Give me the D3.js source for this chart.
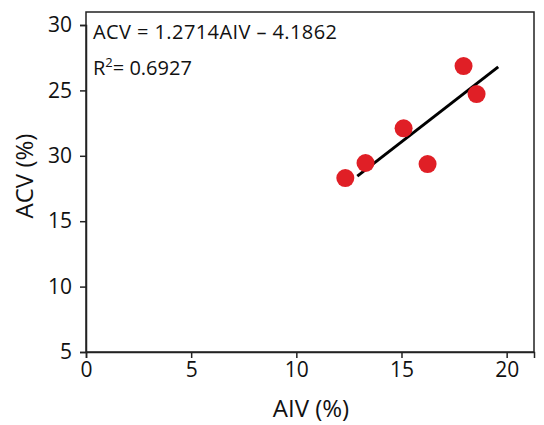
<!DOCTYPE html>
<html lang="en">
<head>
  <meta charset="utf-8">
  <title>ACV vs AIV</title>
  <script src="https://d3js.org/d3.v7.min.js"></script>
  <style>
    body { margin: 0; background: #fff; }
    text { font-family: "Open Sans", "Noto Sans", sans-serif; fill: #111; }
  </style>
</head>
<body>
<div id="chart"></div>
<script>
// data
var aiv = [12.33, 13.29, 15.1, 16.24, 17.95, 18.57];
var acv = [18.3, 19.45, 22.1, 19.37, 26.86, 24.72];
var fitX = [12.9, 19.6];
var fitY = [18.45, 26.8];
var xTicks = [0, 5, 10, 15, 20];
var yTicks = [5, 10, 15, 20, 25, 30];
var yTickLabels = ["5", "10", "15", "30", "25", "30"]; // as printed in the original
var eqLine = "ACV = 1.2714AIV \u2013 4.1862";
var r2Value = "= 0.6927";

var width = 544, height = 425;
var margin = {top: 12, right: 10, bottom: 73, left: 86};

var svg = d3.select("#chart").append("svg")
    .attr("width", width)
    .attr("height", height);

var x = d3.scaleLinear().domain([0, 21.3]).range([margin.left, width - margin.right]);
var y = d3.scaleLinear().domain([5, 30]).range([352, 25]);

// frame
svg.append("rect")
    .attr("x", margin.left)
    .attr("y", margin.top)
    .attr("width", width - margin.right - margin.left)
    .attr("height", 352 - margin.top)
    .attr("fill", "none")
    .attr("stroke", "#222")
    .attr("stroke-width", 1.5);

var xAxis = svg.append("g")
    .attr("transform", "translate(0,352)")
    .call(d3.axisBottom(x).tickValues(xTicks).tickSize(6).tickPadding(4).tickFormat(d3.format("d")));

var yAxis = svg.append("g")
    .attr("transform", "translate(" + margin.left + ",0)")
    .call(d3.axisLeft(y).tickValues(yTicks).tickSize(6).tickPadding(8)
      .tickFormat(function(d, i) { return yTickLabels[i]; }));

[xAxis, yAxis].forEach(function(a) {
  a.select(".domain").attr("stroke", "#222").attr("stroke-width", 1.5);
  a.selectAll(".tick line").attr("stroke", "#222").attr("stroke-width", 1.5);
  a.selectAll(".tick text").attr("font-size", 21).attr("fill", "#111")
    .style("font-family", "'Open Sans', 'Noto Sans', sans-serif");
});

// axis titles
svg.append("text")
    .attr("x", 311)
    .attr("y", 417)
    .attr("text-anchor", "middle")
    .attr("font-size", 24)
    .text("AIV (%)");

svg.append("text")
    .attr("transform", "translate(33,176) rotate(-90)")
    .attr("text-anchor", "middle")
    .attr("font-size", 24)
    .text("ACV (%)");

// regression line
svg.append("line")
    .attr("x1", x(fitX[0])).attr("y1", y(fitY[0]))
    .attr("x2", x(fitX[1])).attr("y2", y(fitY[1]))
    .attr("stroke", "#000")
    .attr("stroke-width", 3);

// points
svg.selectAll(".pt")
    .data(aiv)
    .enter().append("circle")
      .attr("class", "pt")
      .attr("cx", function(d) { return x(d); })
      .attr("cy", function(d, i) { return y(acv[i]); })
      .attr("r", 9)
      .attr("fill", "#e01f26");

// equation
svg.append("text")
    .attr("x", 93)
    .attr("y", 39)
    .attr("font-size", 20)
    .attr("textLength", 244)
    .text(eqLine);

var r2 = svg.append("text")
    .attr("x", 93)
    .attr("y", 75)
    .attr("font-size", 20);
r2.append("tspan").text("R");
r2.append("tspan").attr("dy", -8).attr("font-size", 13).text("2");
r2.append("tspan").attr("dy", 8).text(r2Value);
</script>
</body>
</html>
